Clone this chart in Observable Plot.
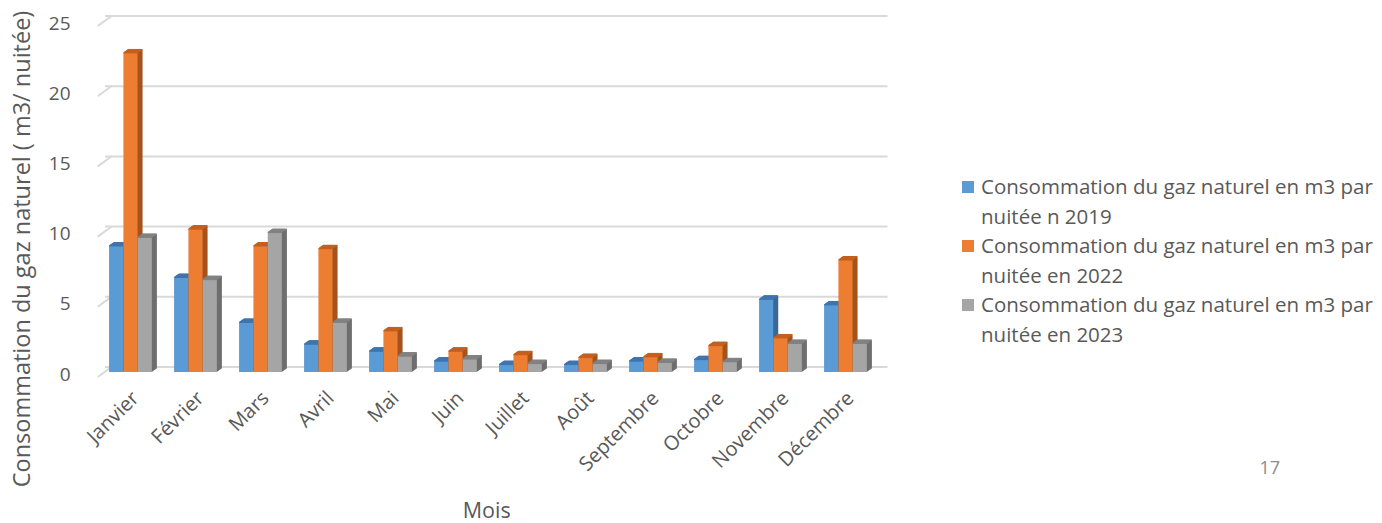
<!DOCTYPE html>
<html lang="fr">
<head>
<meta charset="utf-8">
<script src="https://cdn.jsdelivr.net/npm/d3@7"></script>
<script src="https://cdn.jsdelivr.net/npm/@observablehq/plot@0.6"></script>
<style>
  html, body { margin: 0; padding: 0; background: #fff; }
  #wrap { position: relative; width: 1382px; height: 523px; font-family: "Open Sans", sans-serif; }
  #legend { position: absolute; left: 962px; top: 172px; color: #595959; font-size: 20.5px; line-height: 29.6px; white-space: nowrap; }
  #legend .item { position: relative; padding-left: 19px; }
  #legend .sw { position: absolute; left: 0; top: 9px; width: 12px; height: 12px; }
</style>
</head>
<body>
<div id="wrap"><div id="legend"></div></div>
<script>
// Mois de l'année
const months = ["Janvier", "Février", "Mars", "Avril", "Mai", "Juin", "Juillet", "Août", "Septembre", "Octobre", "Novembre", "Décembre"];

// Consommation du gaz naturel (m3 par nuitée)
const conso2019 = [9.0, 6.75, 3.55, 2.0, 1.5, 0.8, 0.55, 0.55, 0.8, 0.9, 5.2, 4.8];
const conso2022 = [22.75, 10.2, 9.0, 8.8, 2.95, 1.5, 1.25, 1.05, 1.1, 1.9, 2.45, 8.0];
const conso2023 = [9.6, 6.6, 9.95, 3.55, 1.15, 0.95, 0.62, 0.62, 0.7, 0.75, 2.05, 2.05];

const seriesNames = [
  "Consommation du gaz naturel en m3 par nuitée n 2019",
  "Consommation du gaz naturel en m3 par nuitée en 2022",
  "Consommation du gaz naturel en m3 par nuitée en 2023"
];
const yTicks = [0, 5, 10, 15, 20, 25];

// front, top and side shades for each series
const palette = [
  {front: "#5b9bd5", top: "#3f75ad", side: "#3a6794"},
  {front: "#ed7d31", top: "#c5601f", side: "#a5531d"},
  {front: "#a5a5a5", top: "#828282", side: "#6e6e6e"}
];

const seriesValues = [conso2019, conso2022, conso2023];
const tables = seriesValues.map(vals => months.map((m, i) => ({month: m, value: vals[i]})));

const W = 1382, H = 523;
const left = 97, right = 879.5;
const step = (right - left) / months.length;
const barW = 14.3;
const inset = (step - barW) / 2;
const depth = 5, slope = 0.7;

const marks = [];

// back-wall gridlines
marks.push(Plot.ruleY(yTicks, {stroke: "#d9d9d9", strokeWidth: 2, dx: 8, dy: -5.5}));

// left-wall gridline segments
const wallEdge = {draw(ctx, l) { ctx.moveTo(0, 0); ctx.lineTo(0, -l); }};
marks.push(Plot.vector(yTicks, {
  x: () => months[0], y: d => d, length: 16, rotate: 54, anchor: "start",
  shape: wallEdge, stroke: "#d9d9d9", strokeWidth: 2,
  dx: left - (left + step / 2), dy: 4
}));

// 3D columns, one series after the other
tables.forEach((data, j) => {
  const off = (j - 1) * barW;
  const c = palette[j];
  for (let k = 0.5; k <= depth; k += 0.5) {
    marks.push(Plot.barY(data, {x: "month", y: "value", fill: c.side, insetLeft: inset, insetRight: inset, dx: off + k, dy: -slope * k}));
  }
  marks.push(Plot.barY(data, {x: "month", y: "value", fill: c.front, insetLeft: inset, insetRight: inset, dx: off}));
  for (let k = 0.5; k <= depth; k += 0.5) {
    marks.push(Plot.tickY(data, {x: "month", y: "value", stroke: c.top, strokeWidth: 1.3, insetLeft: inset, insetRight: inset, dx: off + k - 0.5, dy: -slope * k}));
  }
});

// month labels
marks.push(Plot.text(months, {
  x: d => d, frameAnchor: "bottom", rotate: -45, textAnchor: "end",
  dx: 9, dy: 27, fontSize: 20, fill: "#595959"
}));

// axis titles and page number
marks.push(Plot.text(["Consommation du gaz naturel ( m3/ nuitée)"], {
  frameAnchor: "left", rotate: -90, textAnchor: "middle", dx: -75, dy: 52, fontSize: 23.5, fill: "#595959"
}));
marks.push(Plot.text(["Mois"], {frameAnchor: "bottom", dy: 145, dx: -2, fontSize: 21.5, fill: "#595959"}));
marks.push(Plot.text(["17"], {frameAnchor: "bottom-right", dx: 400, dy: 101, fontSize: 18, fill: "#8c8c8c"}));

const chart = Plot.plot({
  width: W,
  height: H,
  marginLeft: left,
  marginRight: W - right,
  marginTop: 21,
  marginBottom: H - 372,
  style: {fontFamily: "'Open Sans', sans-serif", background: "#fff"},
  x: {domain: months, padding: 0, axis: null},
  y: {domain: [0, 25], ticks: yTicks, tickSize: 0, tickPadding: 27, label: null, tickFormat: d => String(d)},
  marks: [
    Plot.axisY(yTicks, {tickSize: 0, tickPadding: 27, fontSize: 19, fill: "#595959", dy: 2, label: null}),
    ...marks
  ]
});

const wrap = document.getElementById("wrap");
wrap.insertBefore(chart, wrap.firstChild);

// legend
const legend = document.getElementById("legend");
seriesNames.forEach((name, j) => {
  const words = name.split(" ");
  const cut = words.indexOf("par") + 1;
  const item = document.createElement("div");
  item.className = "item";
  item.innerHTML = `<span class="sw" style="background:${palette[j].front}"></span>${words.slice(0, cut).join(" ")}<br>${words.slice(cut).join(" ")}`;
  legend.appendChild(item);
});
</script>
</body>
</html>
